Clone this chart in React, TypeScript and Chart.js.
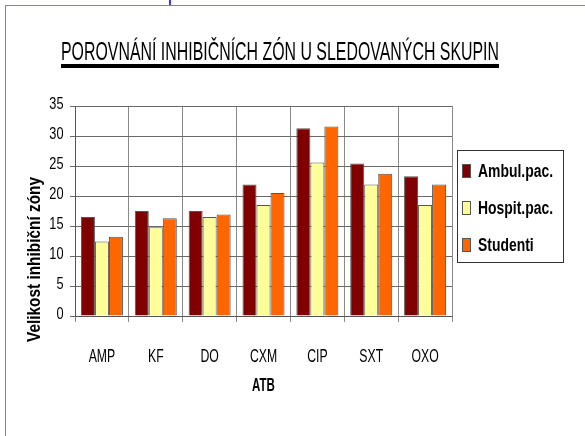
import React, { useEffect, useRef } from "react";
import { Chart, registerables } from "chart.js";

Chart.register(...registerables);

const categories = ["AMP", "KF", "DO", "CXM", "CIP", "SXT", "OXO"];
const ambulPac = [16.5, 17.5, 17.5, 21.9, 31.3, 25.4, 23.3];
const hospitPac = [12.4, 14.8, 16.5, 18.5, 25.6, 21.9, 18.5];
const studenti = [13.2, 16.3, 16.9, 20.5, 31.6, 23.7, 21.9];
const seriesNames = ["Ambul.pac.", "Hospit.pac.", "Studenti"];
const seriesColors = ["#800000", "#FFFF99", "#FF6600"];
const chartTitle = "POROVNÁNÍ INHIBIČNÍCH ZÓN U SLEDOVANÝCH SKUPIN";
const yTitle = "Velikost inhibiční zóny";
const xTitle = "ATB";

const FONT = '"Liberation Sans", Arial, sans-serif';

function drawScaled(
  ctx: CanvasRenderingContext2D,
  text: string,
  x: number,
  y: number,
  sx: number,
  align: "left" | "center" | "right"
) {
  const w = ctx.measureText(text).width * sx;
  let left = x;
  if (align === "center") left = x - w / 2;
  if (align === "right") left = x - w;
  ctx.save();
  ctx.translate(left, y);
  ctx.scale(sx, 1);
  ctx.textAlign = "left";
  ctx.fillText(text, 0, 0);
  ctx.restore();
  return w;
}

const decorPlugin = {
  id: "decor",
  afterDraw(chart: any) {
    const ctx = chart.ctx as CanvasRenderingContext2D;
    const xs = chart.scales.x;
    const ys = chart.scales.y;
    const area = chart.chartArea;
    ctx.save();
    ctx.fillStyle = "#000";

    // title
    ctx.font = `25px ${FONT}`;
    ctx.textBaseline = "alphabetic";
    const tw = ctx.measureText(chartTitle).width;
    drawScaled(ctx, chartTitle, 61, 60, 438 / tw, "left");
    ctx.fillRect(61, 64, 438, 4);

    // y tick labels
    ctx.font = `17px ${FONT}`;
    ctx.textBaseline = "middle";
    ys.ticks.forEach((t: any) => {
      const py = ys.getPixelForValue(t.value);
      drawScaled(ctx, String(t.value), 63.5, py - 1.5, 0.75, "right");
    });

    // x tick labels
    ctx.font = `18px ${FONT}`;
    ctx.textBaseline = "middle";
    categories.forEach((c, i) => {
      const px = xs.getPixelForTick(i);
      drawScaled(ctx, c, px, 357, 0.68, "center");
    });

    // y axis title
    ctx.font = `bold 18px ${FONT}`;
    ctx.textBaseline = "middle";
    const yw = ctx.measureText(yTitle).width;
    ctx.save();
    ctx.translate(35, 259.5);
    ctx.rotate(-Math.PI / 2);
    drawScaled(ctx, yTitle, 0, 0, 165 / yw, "center");
    ctx.restore();

    // x axis title
    ctx.font = `bold 18px ${FONT}`;
    ctx.textBaseline = "middle";
    drawScaled(ctx, xTitle, (area.left + area.right) / 2, 386, 0.64, "center");

    // legend
    const lx = 457, ly = 150, lw = 106, lh = 112;
    ctx.fillStyle = "#fff";
    ctx.fillRect(lx, ly, lw, lh);
    ctx.strokeStyle = "#333";
    ctx.lineWidth = 1;
    ctx.strokeRect(lx + 0.5, ly + 0.5, lw, lh);
    ctx.font = `bold 18px ${FONT}`;
    ctx.textBaseline = "middle";
    const aw = ctx.measureText(seriesNames[0]).width;
    const lsx = 75 / aw;
    chart.data.datasets.forEach((ds: any, i: number) => {
      const cy = 171 + i * 37;
      ctx.fillStyle = ds.backgroundColor;
      ctx.fillRect(462.5, cy - 6.5, 8, 13);
      ctx.strokeStyle = "#555";
      ctx.strokeRect(462.5, cy - 6.5, 8, 13);
      ctx.fillStyle = "#000";
      drawScaled(ctx, ds.label, 478, cy + 1, lsx, "left");
    });
    ctx.restore();
  },
};

export default function App() {
  const ref = useRef<HTMLCanvasElement | null>(null);
  useEffect(() => {
    if (!ref.current) return;
    const datasets = [ambulPac, hospitPac, studenti].map((d, i) => ({
      label: seriesNames[i],
      data: d,
      backgroundColor: seriesColors[i],
      borderColor: "#555",
      borderWidth: 1,
      categoryPercentage: 0.78,
      barPercentage: 1,
    }));
    const chart = new Chart(ref.current, {
      type: "bar",
      data: { labels: categories, datasets },
      options: {
        responsive: false,
        animation: false,
        layout: { padding: { top: 106, right: 133, left: 0, bottom: 0 } },
        plugins: { legend: { display: false }, title: { display: false }, tooltip: { enabled: false } },
        scales: {
          x: {
            afterFit: (s: any) => { s.height = 120; },
            grid: { color: "#8a8a8a", tickLength: 6, offset: true },
            border: { color: "#555" },
            ticks: { display: false },
          },
          y: {
            min: 0,
            max: 35,
            afterFit: (s: any) => { s.width = 75; },
            ticks: { stepSize: 5, display: false },
            grid: { color: "#6a6a6a", tickLength: 5 },
            border: { color: "#555" },
          },
        },
      },
      plugins: [decorPlugin],
    });
    return () => chart.destroy();
  }, []);
  return (
    <div style={{ position: "fixed", left: 0, top: 0, width: 585, height: 436, background: "#fff" }}>
      <div style={{ position: "absolute", left: 5, top: 5, width: 580, height: 431, borderTop: "1px solid #8a8578", borderLeft: "1px solid #8a8578", boxSizing: "border-box" }} />
      <div style={{ position: "absolute", left: 169, top: 0, width: 2, height: 5, background: "#3a3ae0" }} />
      <canvas ref={ref} width={585} height={436} style={{ position: "absolute", left: 0, top: 0 }} />
    </div>
  );
}
